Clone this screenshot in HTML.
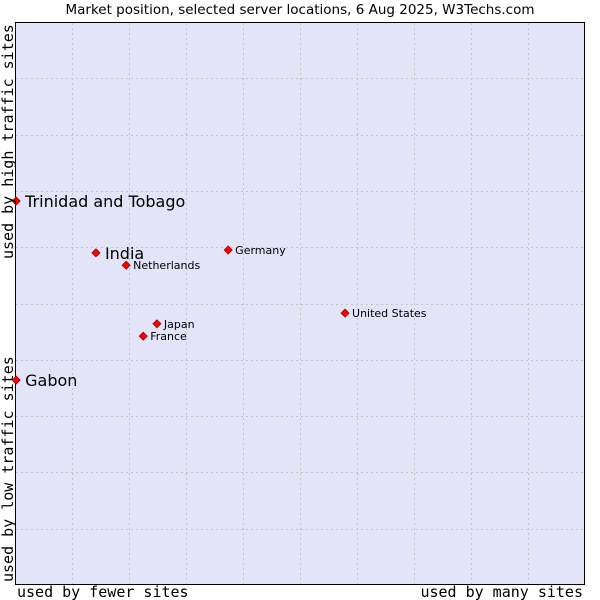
<!DOCTYPE html>
<html><head><meta charset="utf-8"><style>
body{margin:0;background:#fff;width:600px;height:600px;overflow:hidden}
svg{display:block}
</style></head><body>
<svg id="chart" width="600" height="600">
<rect x="0" y="0" width="600" height="600" fill="#fff"/>
<text x="300" y="14" text-anchor="middle" font-family="DejaVu Sans, sans-serif" font-size="13.5" fill="#000">Market position, selected server locations, 6 Aug 2025, W3Techs.com</text>
<rect x="15.5" y="22.5" width="569" height="562" fill="#e3e4f8" stroke="#000" stroke-width="1"/>
<g id="grid"></g>
<g id="points"></g>
<text x="17" y="597" font-family="DejaVu Sans Mono, monospace" font-size="15">used by fewer sites</text>
<text x="583" y="597" text-anchor="end" font-family="DejaVu Sans Mono, monospace" font-size="15">used by many sites</text>
<text transform="translate(13,259) rotate(-90)" font-family="DejaVu Sans Mono, monospace" font-size="15">used by high traffic sites</text>
<text transform="translate(13,582) rotate(-90)" font-family="DejaVu Sans Mono, monospace" font-size="15">used by low traffic sites</text>
</svg>
<script>
const names=["Trinidad and Tobago","India","Netherlands","Germany","United States","Japan","France","Gabon"];
const xVals=[0.02,1.42,1.95,3.74,5.79,2.49,2.25,0.02];
const yVals=[6.82,5.90,5.68,5.95,4.83,4.64,4.42,3.64];
const highlight=[true,true,false,false,false,false,false,true];
const X0=15,X1=585,Y0=585,Y1=22;
const sx=v=>X0+v/10*(X1-X0);
const sy=v=>Y0-v/10*(Y0-Y1);
const NS="http://www.w3.org/2000/svg";
const grid=document.getElementById('grid');
for(let i=1;i<10;i++){
  const vl=document.createElementNS(NS,'line');
  
  
  const x=Math.round(sx(i))+0.5;
  vl.setAttribute('x1',x);vl.setAttribute('x2',x);vl.setAttribute('y1',23);vl.setAttribute('y2',584);
  vl.setAttribute('stroke','#c4c4c4');vl.setAttribute('stroke-dasharray','2,3');
  grid.appendChild(vl);
  const hl=document.createElementNS(NS,'line');
  
  
  const y=Math.round(sy(i))+0.5;
  hl.setAttribute('y1',y);hl.setAttribute('y2',y);hl.setAttribute('x1',16);hl.setAttribute('x2',584);
  hl.setAttribute('stroke','#c4c4c4');hl.setAttribute('stroke-dasharray','2,3');
  grid.appendChild(hl);
}
const pts=document.getElementById('points');
names.forEach((n,i)=>{
  const x=sx(xVals[i]),y=sy(yVals[i]);
  const m=document.createElementNS(NS,'polygon');
  
  
  m.setAttribute('points',`${x},${y-4} ${x+4},${y} ${x},${y+4} ${x-4},${y}`);
  m.setAttribute('fill','#f00');m.setAttribute('stroke','#900');m.setAttribute('stroke-width','0.8');
  pts.appendChild(m);
  const t=document.createElementNS(NS,'text');
  
  
  const big=highlight[i];
  t.setAttribute('x',x+(big?9:7));t.setAttribute('y',y+(big?6:4));
  t.setAttribute('font-family','DejaVu Sans, sans-serif');
  t.setAttribute('font-size',big?16:11);
  t.textContent=n;
  pts.appendChild(t);
});
</script>
</body></html>
